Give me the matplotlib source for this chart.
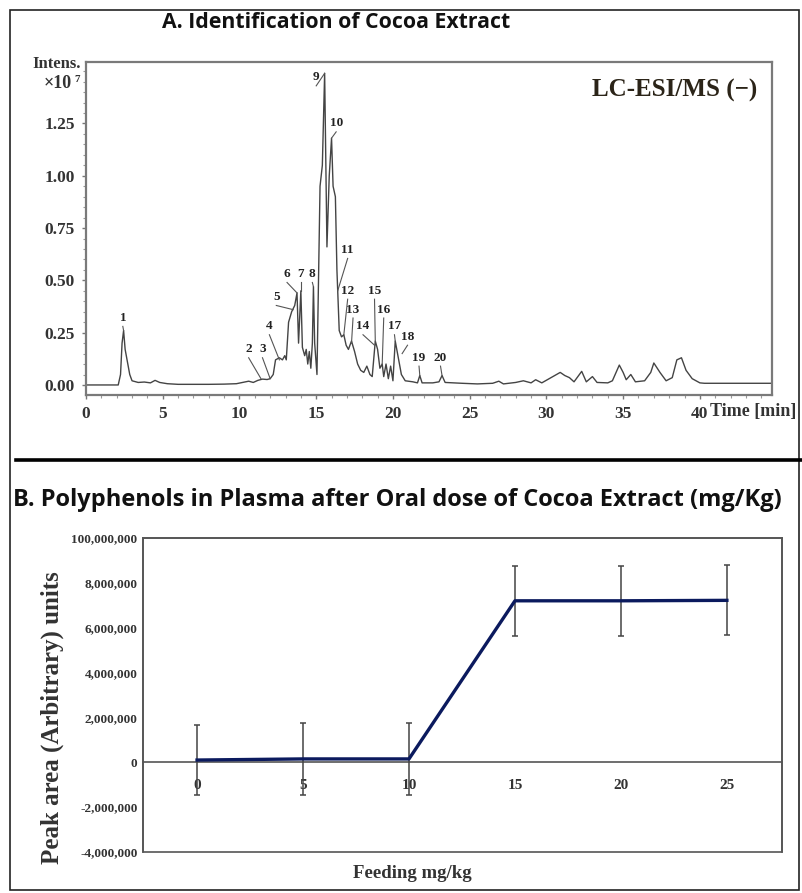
import matplotlib
matplotlib.use('Agg')
import matplotlib.pyplot as plt
from matplotlib.patches import Rectangle
from matplotlib.lines import Line2D
import numpy as np

# ---- panel A: chromatogram trace (time min, intensity x1e7)
time_min = [0.0, 2.1, 2.25, 2.35, 2.45, 2.55, 2.7, 2.85, 3.0, 3.4, 3.8, 4.2, 4.5, 4.8,
            5.3, 6.0, 7.0, 8.0, 9.0, 9.8, 10.2, 10.6, 10.9, 11.2, 11.5, 11.8, 12.0,
            12.2, 12.35, 12.6, 12.8, 12.95, 13.05, 13.2, 13.4, 13.6, 13.75, 13.85,
            14.0, 14.1, 14.25, 14.35, 14.45, 14.55, 14.65, 14.75, 14.82, 14.9, 15.05,
            15.25, 15.4, 15.55, 15.7, 15.85, 16.0, 16.1, 16.25, 16.35, 16.5, 16.65,
            16.8, 16.95, 17.1, 17.3, 17.5, 17.7, 17.9, 18.1, 18.3, 18.5, 18.65, 18.85,
            19.0, 19.15, 19.3, 19.4, 19.55, 19.7, 19.85, 20.0, 20.15, 20.35, 20.55,
            20.8, 21.3, 21.6, 21.75, 21.9, 22.6, 23.0, 23.2, 23.4, 24.5, 25.5, 26.5,
            26.9, 27.2, 28.0, 28.5, 29.0, 29.3, 29.7, 30.3, 30.9, 31.2, 31.5, 31.8,
            32.3, 32.6, 33.0, 33.3, 34.0, 34.3, 34.75, 35.0, 35.2, 35.5, 35.8, 36.4,
            36.8, 37.0, 37.4, 37.8, 38.2, 38.5, 38.8, 39.1, 39.5, 40.0, 40.3, 44.7]
intensity = [0.0, 0.0, 0.05, 0.2, 0.26, 0.17, 0.11, 0.05, 0.02, 0.012, 0.014, 0.01, 0.022,
             0.012, 0.006, 0.003, 0.003, 0.003, 0.004, 0.006, 0.012, 0.018, 0.012, 0.022,
             0.028, 0.026, 0.03, 0.05, 0.12, 0.13, 0.12, 0.14, 0.12, 0.30, 0.35, 0.38,
             0.44, 0.2, 0.45, 0.18, 0.14, 0.17, 0.1, 0.16, 0.08, 0.2, 0.47, 0.2, 0.05,
             0.95, 1.05, 1.49, 0.66, 1.0, 1.18, 0.95, 0.9, 0.55, 0.26, 0.23, 0.24, 0.19,
             0.17, 0.21, 0.16, 0.1, 0.07, 0.06, 0.09, 0.05, 0.04, 0.21, 0.17, 0.08, 0.1,
             0.04, 0.1, 0.03, 0.09, 0.02, 0.21, 0.13, 0.05, 0.02, 0.015, 0.01, 0.045,
             0.01, 0.01, 0.015, 0.045, 0.012, 0.008, 0.005, 0.008, 0.018, 0.005, 0.012,
             0.02, 0.01, 0.025, 0.01, 0.035, 0.06, 0.045, 0.035, 0.015, 0.065, 0.015,
             0.04, 0.012, 0.01, 0.02, 0.095, 0.06, 0.025, 0.05, 0.015, 0.02, 0.06, 0.105,
             0.06, 0.02, 0.035, 0.12, 0.13, 0.07, 0.03, 0.01, 0.008, 0.008]

# peak numbers: label position and leader end point
peak_ids = [str(i) for i in range(1, 21)]
label_t = [2.4, 10.6, 11.5, 11.95, 12.4, 13.1, 14.0, 14.75, 15.0, 16.3,
           17.05, 17.05, 17.4, 18.05, 18.8, 19.4, 20.1, 20.95, 21.7, 23.1]
label_i = [0.32, 0.17, 0.17, 0.28, 0.42, 0.53, 0.53, 0.53, 1.47, 1.25,
           0.645, 0.45, 0.36, 0.28, 0.45, 0.36, 0.28, 0.23, 0.13, 0.13]
tip_t = [2.45, 11.4, 12.0, 12.6, 13.5, 13.75, 14.0, 14.82, 15.55, 16.0,
         16.4, 16.8, 17.3, 18.8, 18.85, 19.3, 20.15, 20.6, 21.75, 23.2]
tip_i = [0.26, 0.03, 0.03, 0.12, 0.36, 0.44, 0.45, 0.47, 1.49, 1.18,
         0.45, 0.24, 0.2, 0.19, 0.21, 0.1, 0.21, 0.15, 0.045, 0.045]

# ---- panel B: plasma peak area vs feeding dose
dose = [0, 5, 10, 15, 20, 25]
peak_area = [0.1e6, 0.15e6, 0.15e6, 7.2e6, 7.2e6, 7.22e6]
peak_err = [1.58e6, 1.6e6, 1.6e6, 1.56e6, 1.56e6, 1.56e6]
b_yticks = [-4e6, -2e6, 0, 2e6, 4e6, 6e6, 8e6, 10e6]
b_ylabels = ['-4,000,000', '-2,000,000', '0', '2,000,000', '4,000,000',
             '6,000,000', '8,000,000', '100,000,000']

W, H = 802, 893
fig = plt.figure(figsize=(W / 100, H / 100), dpi=100)
serif = 'Liberation Serif'
sans = 'Open Sans'


def fx(px):
    return px / W


def fy(py):
    return 1 - py / H


# outer frame and separator
fig.patches.append(Rectangle((fx(10), fy(890)), fx(789), (880) / H, fill=False,
                             edgecolor='#222222', lw=1.2, transform=fig.transFigure))
fig.add_artist(Line2D([fx(16), fx(802)], [fy(460), fy(460)], color='black', lw=2.6,
                      transform=fig.transFigure))

# ---------------- panel A
axA = fig.add_axes([fx(86), fy(395), fx(772 - 86), (395 - 62) / H])
axA.plot(time_min, intensity, color='#444444', lw=1.0)
axA.set_xlim(0, 44.7)
axA.set_ylim(-0.048, 1.544)
axA.set_xticks(range(0, 45, 5))
axA.set_xticklabels([str(v) for v in range(0, 45, 5)])
axA.set_xticks(np.arange(0, 45, 1), minor=True)
axA.set_yticks([0, 0.25, 0.5, 0.75, 1.0, 1.25])
axA.set_yticklabels(['0.00', '0.25', '0.50', '0.75', '1.00', '1.25'])
axA.set_yticks(np.arange(0, 1.55, 0.05), minor=True)
axA.tick_params(which='major', length=3, width=1, color='#777777', pad=5)
axA.tick_params(which='minor', length=2, width=0.8, color='#999999')
for lab in axA.get_xticklabels() + axA.get_yticklabels():
    lab.set_fontfamily(serif)
    lab.set_fontweight('bold')
    lab.set_fontsize(12.5)
    lab.set_color('#333333')
for sp in axA.spines.values():
    sp.set_color('#7a7a7a')
    sp.set_linewidth(1.6)

for pid, lt, li, tt, ti in zip(peak_ids, label_t, label_i, tip_t, tip_i):
    axA.text(lt, li, pid, fontsize=9.5, fontfamily=serif, fontweight='bold',
             ha='center', va='center', color='#222222')
    axA.plot([lt, tt], [li - 0.04, ti], color='#555555', lw=0.8)

axA.text(0.978, 0.915, 'LC-ESI/MS (\u2212)', transform=axA.transAxes, ha='right', va='center',
         fontsize=18, fontfamily=serif, fontweight='bold', color='#2b2418')

fig.text(fx(57), fy(64), 'Intens.', ha='center', va='center', fontsize=12,
         fontfamily=serif, fontweight='bold', color='#333333')
fig.text(fx(58), fy(84), '\u00d710', ha='center', va='center', fontsize=13,
         fontfamily=serif, fontweight='bold', color='#333333')
fig.text(fx(77), fy(79), '7', ha='center', va='center', fontsize=8,
         fontfamily=serif, fontweight='bold', color='#333333')
fig.text(fx(753), fy(412), 'Time [min]', ha='center', va='center', fontsize=13,
         fontfamily=serif, fontweight='bold', color='#333333')
fig.text(fx(336), fy(22), 'A. Identification of Cocoa Extract', ha='center', va='center',
         fontsize=15.3, fontfamily=sans, fontweight='bold', color='#111111')

# ---------------- panel B
axB = fig.add_axes([fx(143), fy(852), fx(782 - 143), (852 - 538) / H])
axB.errorbar(dose, peak_area, yerr=peak_err, color='#0b1a5e', lw=2.4,
             ecolor='#444444', elinewidth=1.1, capsize=2.5, capthick=1.1, zorder=3)
axB.set_xlim(-2.55, 27.6)
axB.set_ylim(-4e6, 10e6)
axB.set_xticks(dose)
axB.set_xticklabels([str(d) for d in dose])
axB.set_yticks(b_yticks)
axB.set_yticklabels(b_ylabels)
axB.spines['bottom'].set_position(('data', 0))
for sp in axB.spines.values():
    sp.set_color('#555555')
    sp.set_linewidth(1.2)
axB.add_patch(Rectangle((0, 0), 1, 1, transform=axB.transAxes, fill=False,
                        edgecolor='#555555', lw=1.2, clip_on=False))
axB.tick_params(axis='x', length=0, pad=12)
axB.tick_params(axis='y', length=0, pad=4)
for lab in axB.get_yticklabels():
    lab.set_fontfamily(serif)
    lab.set_fontweight('bold')
    lab.set_fontsize(9.5)
    lab.set_color('#333333')
for lab in axB.get_xticklabels():
    lab.set_fontfamily(serif)
    lab.set_fontweight('bold')
    lab.set_fontsize(11)
    lab.set_color('#333333')

fig.text(fx(13), fy(500), 'B. Polyphenols in Plasma after Oral dose of Cocoa Extract (mg/Kg)',
         ha='left', va='center', fontsize=17, fontfamily=sans, fontweight='bold',
         color='#111111')
fig.text(fx(52), fy(718), 'Peak area (Arbitrary) units', rotation=90, ha='center',
         va='center', fontsize=18, fontfamily=serif, fontweight='bold', color='#333333')
fig.text(fx(412), fy(873), 'Feeding mg/kg', ha='center', va='center', fontsize=13.5,
         fontfamily=serif, fontweight='bold', color='#333333')

fig.savefig('out.png', dpi=100)
